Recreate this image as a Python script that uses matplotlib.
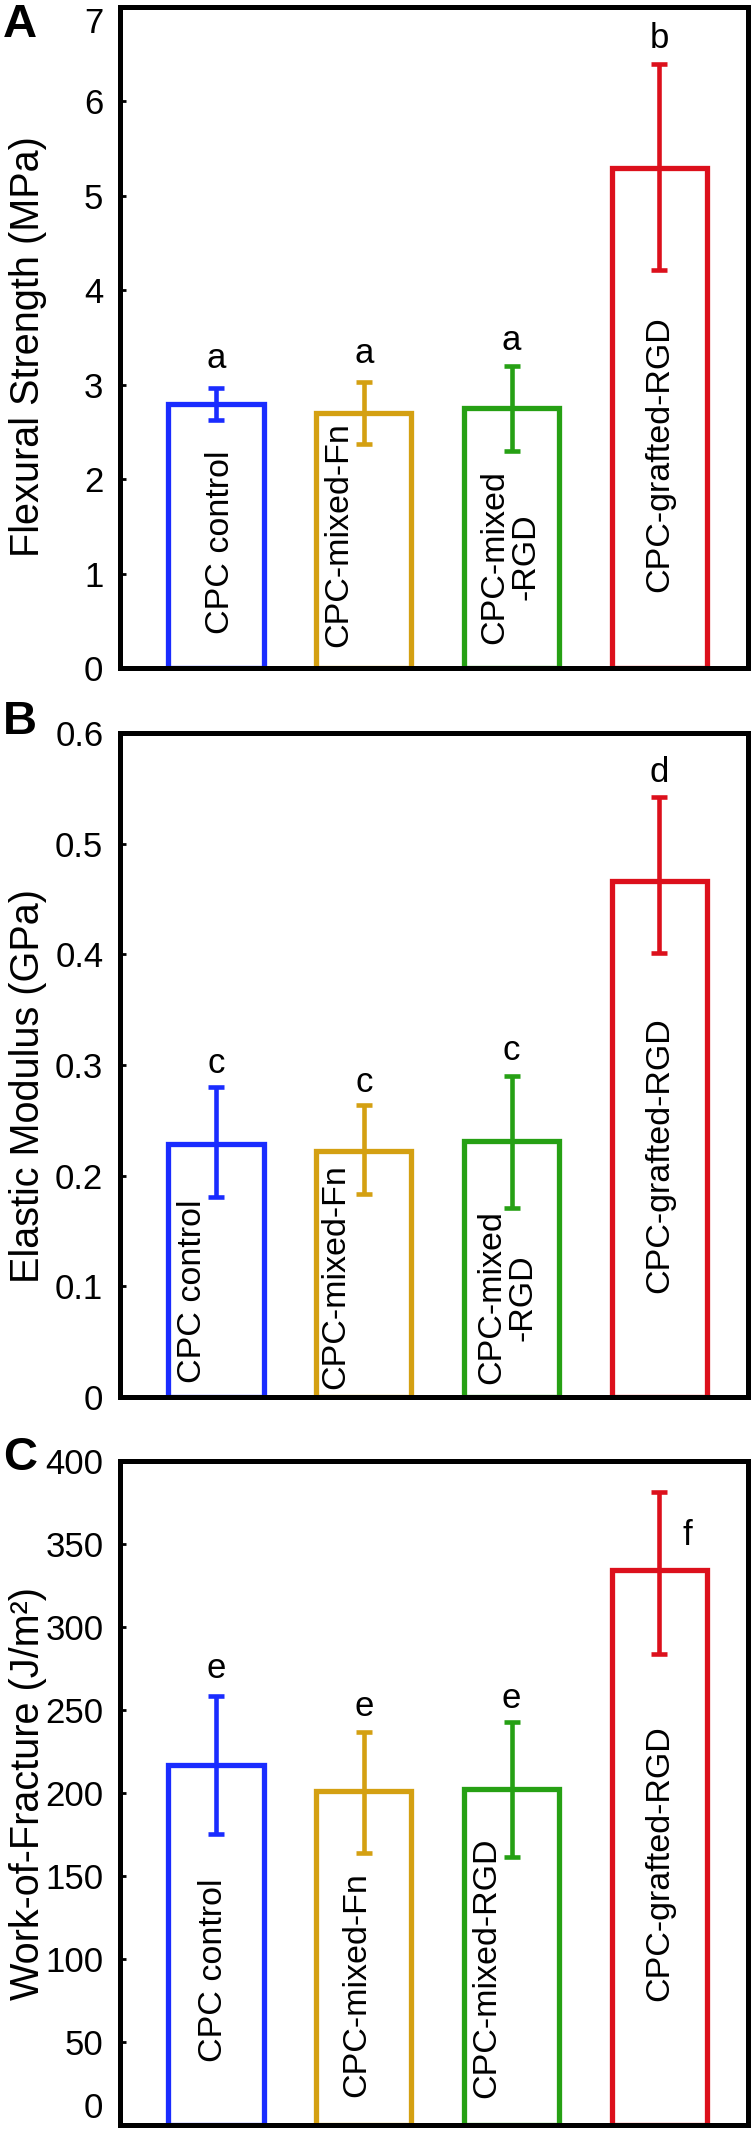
import matplotlib
matplotlib.use("Agg")
import matplotlib.pyplot as plt
from matplotlib.ticker import FuncFormatter

plt.rcParams['font.family'] = ['Liberation Sans', 'DejaVu Sans']

# ---- data ----
groups = ["CPC control", "CPC-mixed-Fn", "CPC-mixed-RGD", "CPC-grafted-RGD"]
colors = ["#1a2cff", "#d4a012", "#26a014", "#dc101c"]

flex_mean = [2.80, 2.70, 2.75, 5.30]
flex_hi = [2.97, 3.03, 3.20, 6.40]
flex_lo = [2.63, 2.37, 2.30, 4.21]
flex_letters = ["a", "a", "a", "b"]

mod_mean = [0.229, 0.222, 0.231, 0.466]
mod_hi = [0.280, 0.264, 0.290, 0.542]
mod_lo = [0.181, 0.183, 0.171, 0.401]
mod_letters = ["c", "c", "c", "d"]

wof_mean = [216.6, 201.0, 202.5, 334.3]
wof_hi = [258.7, 237.0, 242.7, 381.5]
wof_lo = [175.3, 164.0, 161.3, 283.7]
wof_letters = ["e", "e", "e", "f"]

bar_labels_ab = ["CPC control", "CPC-mixed-Fn", "CPC-mixed\n-RGD", "CPC-grafted-RGD"]
bar_labels_c = ["CPC control", "CPC-mixed-Fn", "CPC-mixed-RGD", "CPC-grafted-RGD"]

# ---- layout / style (positions in data units per panel) ----
W, H = 752, 2132
fig = plt.figure(figsize=(W / 100, H / 100), dpi=100)

panels = [
    dict(rect=(120, 7, 748, 668), mean=flex_mean, hi=flex_hi, lo=flex_lo, letters=flex_letters,
         ylim=(0, 7), ticks=[0, 1, 2, 3, 4, 5, 6, 7], ylabel="Flexural Strength (MPa)", tag="A",
         labels=bar_labels_ab,
         label_xy=[(0.03, 1.33), (0.83, 1.41), (1.99, 1.18), (3.0, 2.26)],
         letter_xy=[(0, 3.28), (1, 3.33), (2, 3.47), (3, 6.67)], tag_y=25, label_y=0.487),
    dict(rect=(120, 733, 748, 1397), mean=mod_mean, hi=mod_hi, lo=mod_lo, letters=mod_letters,
         ylim=(0, 0.6), ticks=[0, 0.1, 0.2, 0.3, 0.4, 0.5, 0.6], ylabel="Elastic Modulus (GPa)", tag="B",
         labels=bar_labels_ab,
         label_xy=[(-0.16, 0.096), (0.81, 0.109), (1.97, 0.090), (3.0, 0.219)],
         letter_xy=[(0, 0.301), (1, 0.284), (2, 0.313), (3, 0.564)], tag_y=722, label_y=0.468),
    dict(rect=(120, 1461, 748, 2125), mean=wof_mean, hi=wof_hi, lo=wof_lo, letters=wof_letters,
         ylim=(0, 400), ticks=[0, 50, 100, 150, 200, 250, 300, 350, 400],
         ylabel="Work-of-Fracture (J/m\u00b2)", tag="C",
         labels=bar_labels_c,
         label_xy=[(-0.02, 93.5), (0.95, 84.6), (1.83, 95.0), (3.0, 158.0)],
         letter_xy=[(0, 275), (1, 252), (2, 256.7), (3.19, 355)], tag_y=1458, label_y=0.5),
]

x = list(range(len(groups)))
for k, p in enumerate(panels):
    l, t, r, b = p["rect"]
    ax = fig.add_axes([l / W, 1 - b / H, (r - l) / W, (b - t) / H])
    lo_err = [m - v for m, v in zip(p["mean"], p["lo"])]
    hi_err = [v - m for m, v in zip(p["mean"], p["hi"])]
    ax.bar(x, p["mean"], width=0.645, facecolor="white", edgecolor=colors, linewidth=3.8, zorder=2)
    for i in x:
        ax.errorbar(x[i], p["mean"][i], yerr=[[lo_err[i]], [hi_err[i]]], fmt="none",
                    ecolor=colors[i], elinewidth=3.3, capsize=6, capthick=3.3, zorder=4)
    for i, (txt, (tx, ty)) in enumerate(zip(p["labels"], p["label_xy"])):
        ax.text(tx, ty, txt, rotation=90, ha="center", va="center", multialignment="center",
                fontsize=24.5, zorder=3, linespacing=1.0)
    for lt, (lx, ly) in zip(p["letters"], p["letter_xy"]):
        ax.text(lx, ly, lt, ha="center", va="center", fontsize=25, zorder=5)
    ax.set_xlim(-0.65, 3.6)
    ax.set_ylim(*p["ylim"])
    ax.set_yticks(p["ticks"])
    ax.yaxis.set_major_formatter(FuncFormatter(lambda v, pos: f"{v:g}"))
    ax.set_xticks([])
    ax.tick_params(axis="y", direction="in", length=4, width=2, labelsize=25, pad=12)
    for s in ax.spines.values():
        s.set_linewidth(3.6)
        s.set_zorder(6)
    ax.set_ylabel(p["ylabel"], fontsize=28.5)
    ax.yaxis.set_label_coords(-0.116, p["label_y"])
    fig.canvas.draw()
    tls = ax.get_yticklabels()
    if k == 0:
        tls[-1].set_verticalalignment("top")
    if k == 2:
        tls[0].set_verticalalignment("bottom")
    fig.text(20 / W, 1 - p["tag_y"] / H, p["tag"], fontsize=34, fontweight="bold",
             ha="center", va="center")

fig.savefig("out.png", dpi=100)
